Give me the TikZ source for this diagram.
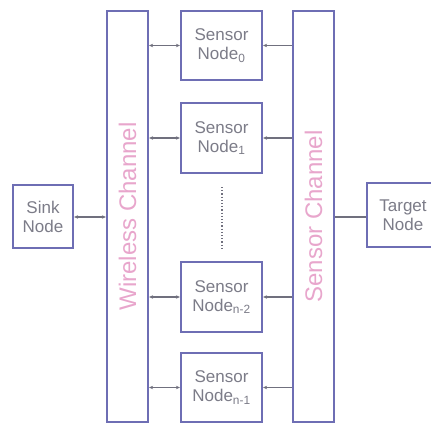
\documentclass[tikz,border=0pt]{standalone}
\usepackage{fontspec}
\setmainfont{Liberation Sans}
\usetikzlibrary{arrows.meta}
\definecolor{boxblue}{HTML}{6E6EB4}
\definecolor{txtgray}{HTML}{7C7C88}
\definecolor{chanpink}{HTML}{E8A6CC}
\definecolor{linegray}{HTML}{70707E}
\tikzset{
  x=1pt, y=-1pt,
  blockbox/.style={draw=boxblue, line width=2.2pt, fill=white, inner sep=0pt,
    text=txtgray, font=\fontsize{17}{19}\selectfont, align=center},
  chanbox/.style={draw=boxblue, line width=2.2pt, inner sep=0pt,
    minimum width=41pt, minimum height=411pt},
  chantext/.style={rotate=90, text=chanpink, font=\fontsize{24}{26}\selectfont, inner sep=0pt},
  biarrow/.style={draw=linegray, line width=1.2pt, {Stealth[length=4pt,width=3.5pt]}-{Stealth[length=4pt,width=3.5pt]}},
  toarrow/.style={draw=linegray, line width=1.2pt, -{Stealth[length=4pt,width=3.5pt]}},
  plainline/.style={draw=linegray, line width=1.2pt},
  dotline/.style={draw=linegray, line width=1.2pt, dotted}
}
\begin{document}
\begin{tikzpicture}
\useasboundingbox (0,0) rectangle (431,425);
\clip (0,0) rectangle (431,425);
% channels
\node[chanbox] (wc) at (127.5,216.5) {};
\node[chantext] (wct) at (wc.center) {Wireless Channel};
\node[chanbox] (sc) at (313.5,216.5) {};
\node[chantext] (sct) at (sc.center) {Sensor Channel};
% sensor nodes
\node[blockbox, minimum width=81pt, minimum height=69pt] (s0) at (221.5,45.5) {Sensor\\Node\textsubscript{0}};
\node[blockbox, minimum width=81pt, minimum height=70pt] (s1) at (221.5,138) {Sensor\\Node\textsubscript{1}};
\node[blockbox, minimum width=81pt, minimum height=70pt] (s2) at (221.5,297) {Sensor\\Node\textsubscript{n-2}};
\node[blockbox, minimum width=81pt, minimum height=69pt] (s3) at (221.5,387.5) {Sensor\\Node\textsubscript{n-1}};
% sink and target
\node[blockbox, minimum width=60pt, minimum height=63pt] (sink) at (43,216.5) {Sink\\Node};
\node[blockbox, minimum width=72pt, minimum height=64pt] (target) at (403,215) {Target\\Node};
% connectors
\draw[biarrow] (sink.east |- 0,217) -- (wc.west |- 0,217);
\foreach \s in {s0,s1,s2,s3}{
  \draw[biarrow] (wc.east |- \s) -- (\s.west);
  \draw[toarrow] (sc.west |- \s) -- (\s.east);
}
\draw[plainline] (sc.east |- 0,217) -- (target.west |- 0,217);
% dots
\coordinate (d1) at (222,187);
\coordinate (d2) at (222,250);
\draw[dotline] (d1) -- (d2);
\end{tikzpicture}
\end{document}
